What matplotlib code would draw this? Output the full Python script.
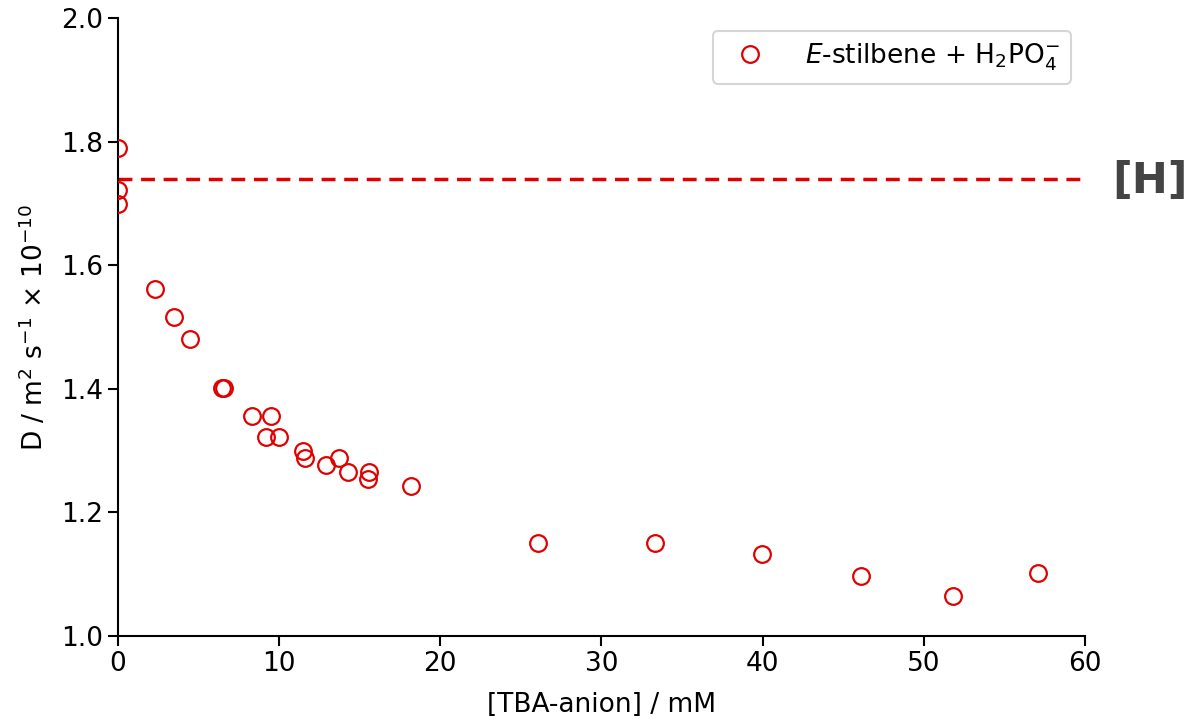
import matplotlib
matplotlib.use("Agg")
import matplotlib.pyplot as plt

conc = [0.0, 0.0, 0.0, 2.3, 3.5, 4.5, 6.45, 6.6, 8.3, 9.5, 9.2, 10.0, 11.5, 11.6,
        12.9, 13.7, 14.3, 15.6, 15.5, 18.2, 26.05, 33.3, 39.95, 46.1, 51.8, 57.1]
diff = [1.790, 1.722, 1.699, 1.561, 1.516, 1.481, 1.401, 1.401, 1.356, 1.356, 1.322,
        1.322, 1.299, 1.288, 1.277, 1.288, 1.265, 1.265, 1.254, 1.243, 1.150, 1.150,
        1.133, 1.097, 1.065, 1.102]
host_D = 1.740
red = '#e00000'

fig = plt.figure(figsize=(11.89, 7.16), dpi=100)
ax = fig.add_axes([0.0992, 0.1117, 0.8133, 0.8632])
ax.plot(conc, diff, linestyle='none', marker='o', markersize=12, markerfacecolor='none',
        markeredgecolor=red, markeredgewidth=1.6, label=r'$E$-stilbene + H$_2$PO$_4^{-}$',
        zorder=3)
ax.axhline(host_D, color=red, linestyle='--', linewidth=2.5, dashes=(4, 2.5))
ax.set_xlim(0, 60)
ax.set_ylim(1.0, 2.0)
ax.set_xticks([0, 10, 20, 30, 40, 50, 60])
ax.set_yticks([1.0, 1.2, 1.4, 1.6, 1.8, 2.0])
ax.spines['top'].set_visible(False)
ax.spines['right'].set_visible(False)
for s in ax.spines.values():
    s.set_linewidth(1.5)
ax.tick_params(labelsize=19, width=1.5, length=7)
ax.set_xlabel('[TBA-anion] / mM', fontsize=19, labelpad=11)
ax.set_ylabel(r'D / m$^2$ s$^{-1}$ $\times$ 10$^{-10}$', fontsize=19, labelpad=9)
leg = ax.legend(loc='upper right', fontsize=19, handletextpad=1.1, borderpad=0.4,
                frameon=True, bbox_to_anchor=(0.999, 1.0))
leg.get_frame().set_edgecolor('#cccccc')
leg.get_frame().set_linewidth(1.5)
fig.text(1112/1189, 1 - 181/716, '[H]', fontsize=31, fontweight='bold',
         color='#444444', va='center', ha='left')
fig.savefig('out.png', dpi=100)
